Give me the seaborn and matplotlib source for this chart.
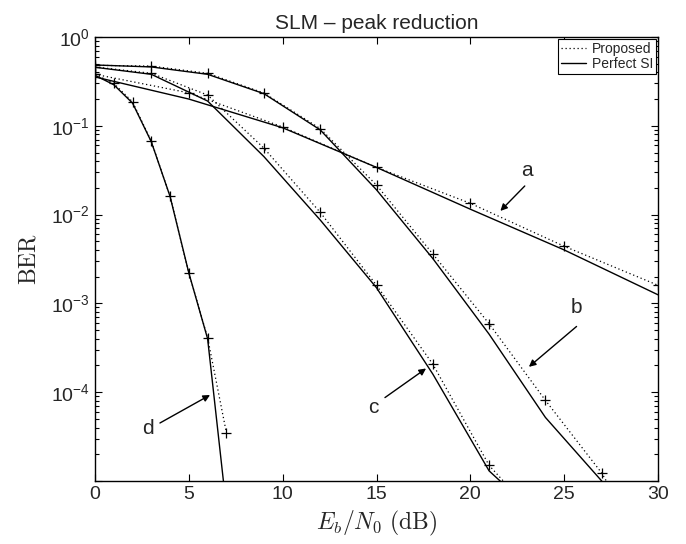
import numpy as np
import pandas as pd
import matplotlib
matplotlib.use('Agg')
import matplotlib.pyplot as plt
from matplotlib.lines import Line2D
from matplotlib.ticker import FixedLocator, FuncFormatter, LogLocator, NullFormatter
import seaborn as sns

# curve a: markers every 5 dB
a_x = [0, 5, 10, 15, 20, 25, 30]
a_prop = [0.38, 0.235, 0.097, 0.034, 0.0134, 0.0044, 0.0016]
a_perf = [0.355, 0.20, 0.095, 0.034, 0.0115, 0.0040, 0.00125]

# curve b: markers every 3 dB
b_x = [0, 3, 6, 9, 12, 15, 18, 21, 24, 27, 30]
b_prop = [0.48, 0.47, 0.39, 0.234, 0.093, 0.0215, 0.0036, 5.9e-4, 8.1e-5, 1.23e-5, 1e-6]
b_perf = [0.484, 0.46, 0.38, 0.23, 0.09, 0.019, 0.0032, 4.5e-4, 5.2e-5, 1.0e-5, 1e-6]

# curve c: markers every 3 dB
c_x = [0, 3, 6, 9, 12, 15, 18, 21, 24]
c_prop = [0.46, 0.39, 0.222, 0.056, 0.0106, 0.0016, 2.07e-4, 1.5e-5, 3e-6]
c_perf = [0.456, 0.38, 0.19, 0.045, 0.0087, 0.0015, 1.6e-4, 1.3e-5, 3.4e-6]

# curve d: markers every 1 dB
d_x = [0, 1, 2, 3, 4, 5, 6, 7]
d_prop = [0.38, 0.30, 0.186, 0.067, 0.016, 0.0022, 4.1e-4, 3.5e-5]
d_perf = [0.37, 0.29, 0.18, 0.066, 0.016, 0.0022, 4.0e-4, 5e-6]

curves = {
    'a': (a_x, a_prop, a_perf),
    'b': (b_x, b_prop, b_perf),
    'c': (c_x, c_prop, c_perf),
    'd': (d_x, d_prop, d_perf),
}

rows = []
for name, (xs, prop, perf) in curves.items():
    for x, p, s in zip(xs, prop, perf):
        rows.append({'curve': name, 'x': x, 'kind': 'Proposed', 'ber': p})
        rows.append({'curve': name, 'x': x, 'kind': 'Perfect SI', 'ber': s})
df = pd.DataFrame(rows)

sns.set_theme(style='ticks')
plt.rcParams['font.family'] = ['Liberation Sans', 'DejaVu Sans']
plt.rcParams['mathtext.fontset'] = 'cm'

DOT = (0, (1, 2.2))

fig = plt.figure(figsize=(6.86, 5.44), dpi=100)
ax = fig.add_axes([0.1385, 0.1158, 0.8207, 0.8162])

for name in curves:
    sub = df[df['curve'] == name]
    prop = sub[sub['kind'] == 'Proposed']
    perf = sub[sub['kind'] == 'Perfect SI']
    sns.lineplot(data=perf, x='x', y='ber', ax=ax, color='black',
                 linewidth=1.0, linestyle='-', estimator=None, sort=False)
    sns.lineplot(data=prop, x='x', y='ber', ax=ax, color='black',
                 linewidth=0.9, linestyle=DOT, marker='+', markersize=7,
                 markeredgewidth=0.9, markeredgecolor='black',
                 estimator=None, sort=False)

ax.set_yscale('log')
ax.set_xlim(0, 30)
ax.set_ylim(1e-5, 1)
ax.set_xticks([0, 5, 10, 15, 20, 25, 30])

ax.yaxis.set_major_locator(FixedLocator([1e-5, 1e-4, 1e-3, 1e-2, 1e-1, 1]))
ax.yaxis.set_minor_locator(LogLocator(base=10, subs=np.arange(2, 10), numticks=20))
ax.yaxis.set_minor_formatter(NullFormatter())


def fmt_log(v, pos):
    e = int(round(np.log10(v)))
    if e == -5:
        return ''
    return r'$\mathdefault{10^{%d}}$' % e


ax.yaxis.set_major_formatter(FuncFormatter(fmt_log))

ax.tick_params(which='both', direction='in', top=True, right=True, labelsize=14,
               width=0.8, color='black')
ax.tick_params(which='major', length=5)
ax.tick_params(which='minor', length=3)
for sp in ax.spines.values():
    sp.set_linewidth(1.0)
    sp.set_color('black')

ax.set_title('SLM – peak reduction', fontsize=15, pad=6)
ax.set_xlabel(r'$E_b/N_0\ \mathrm{(dB)}$', fontsize=17, labelpad=4)
ax.set_ylabel(r'$\mathrm{BER}$', fontsize=17, labelpad=8)

# curve labels with arrows
arrows = [
    ('a', (23.0, 0.031), (22.9, 0.021), (21.6, 0.011)),
    ('b', (25.63, 9e-4), (25.66, 5.5e-4), (23.12, 1.93e-4)),
    ('c', (14.83, 6.8e-5), (15.45, 8.7e-5), (17.64, 1.85e-4)),
    ('d', (2.84, 3.9e-5), (3.46, 4.5e-5), (6.13, 9.3e-5)),
]
for lab, txt, start, tip in arrows:
    ax.text(txt[0], txt[1], lab, fontsize=15, ha='center', va='center')
    ax.annotate('', xy=tip, xytext=start,
                arrowprops=dict(arrowstyle='-|>', color='black', lw=1.0,
                                mutation_scale=10, shrinkA=0, shrinkB=0))

handles = [Line2D([], [], color='black', linestyle=DOT, linewidth=0.9),
           Line2D([], [], color='black', linestyle='-', linewidth=1.0)]
leg = ax.legend(handles, ['Proposed', 'Perfect SI'], loc='upper right',
                fontsize=10, frameon=True, fancybox=False, framealpha=1,
                edgecolor='black', borderaxespad=0.15, borderpad=0.2,
                labelspacing=0.1, handlelength=1.8, handletextpad=0.4)
leg.get_frame().set_linewidth(0.8)

fig.savefig('out.png', dpi=100)
